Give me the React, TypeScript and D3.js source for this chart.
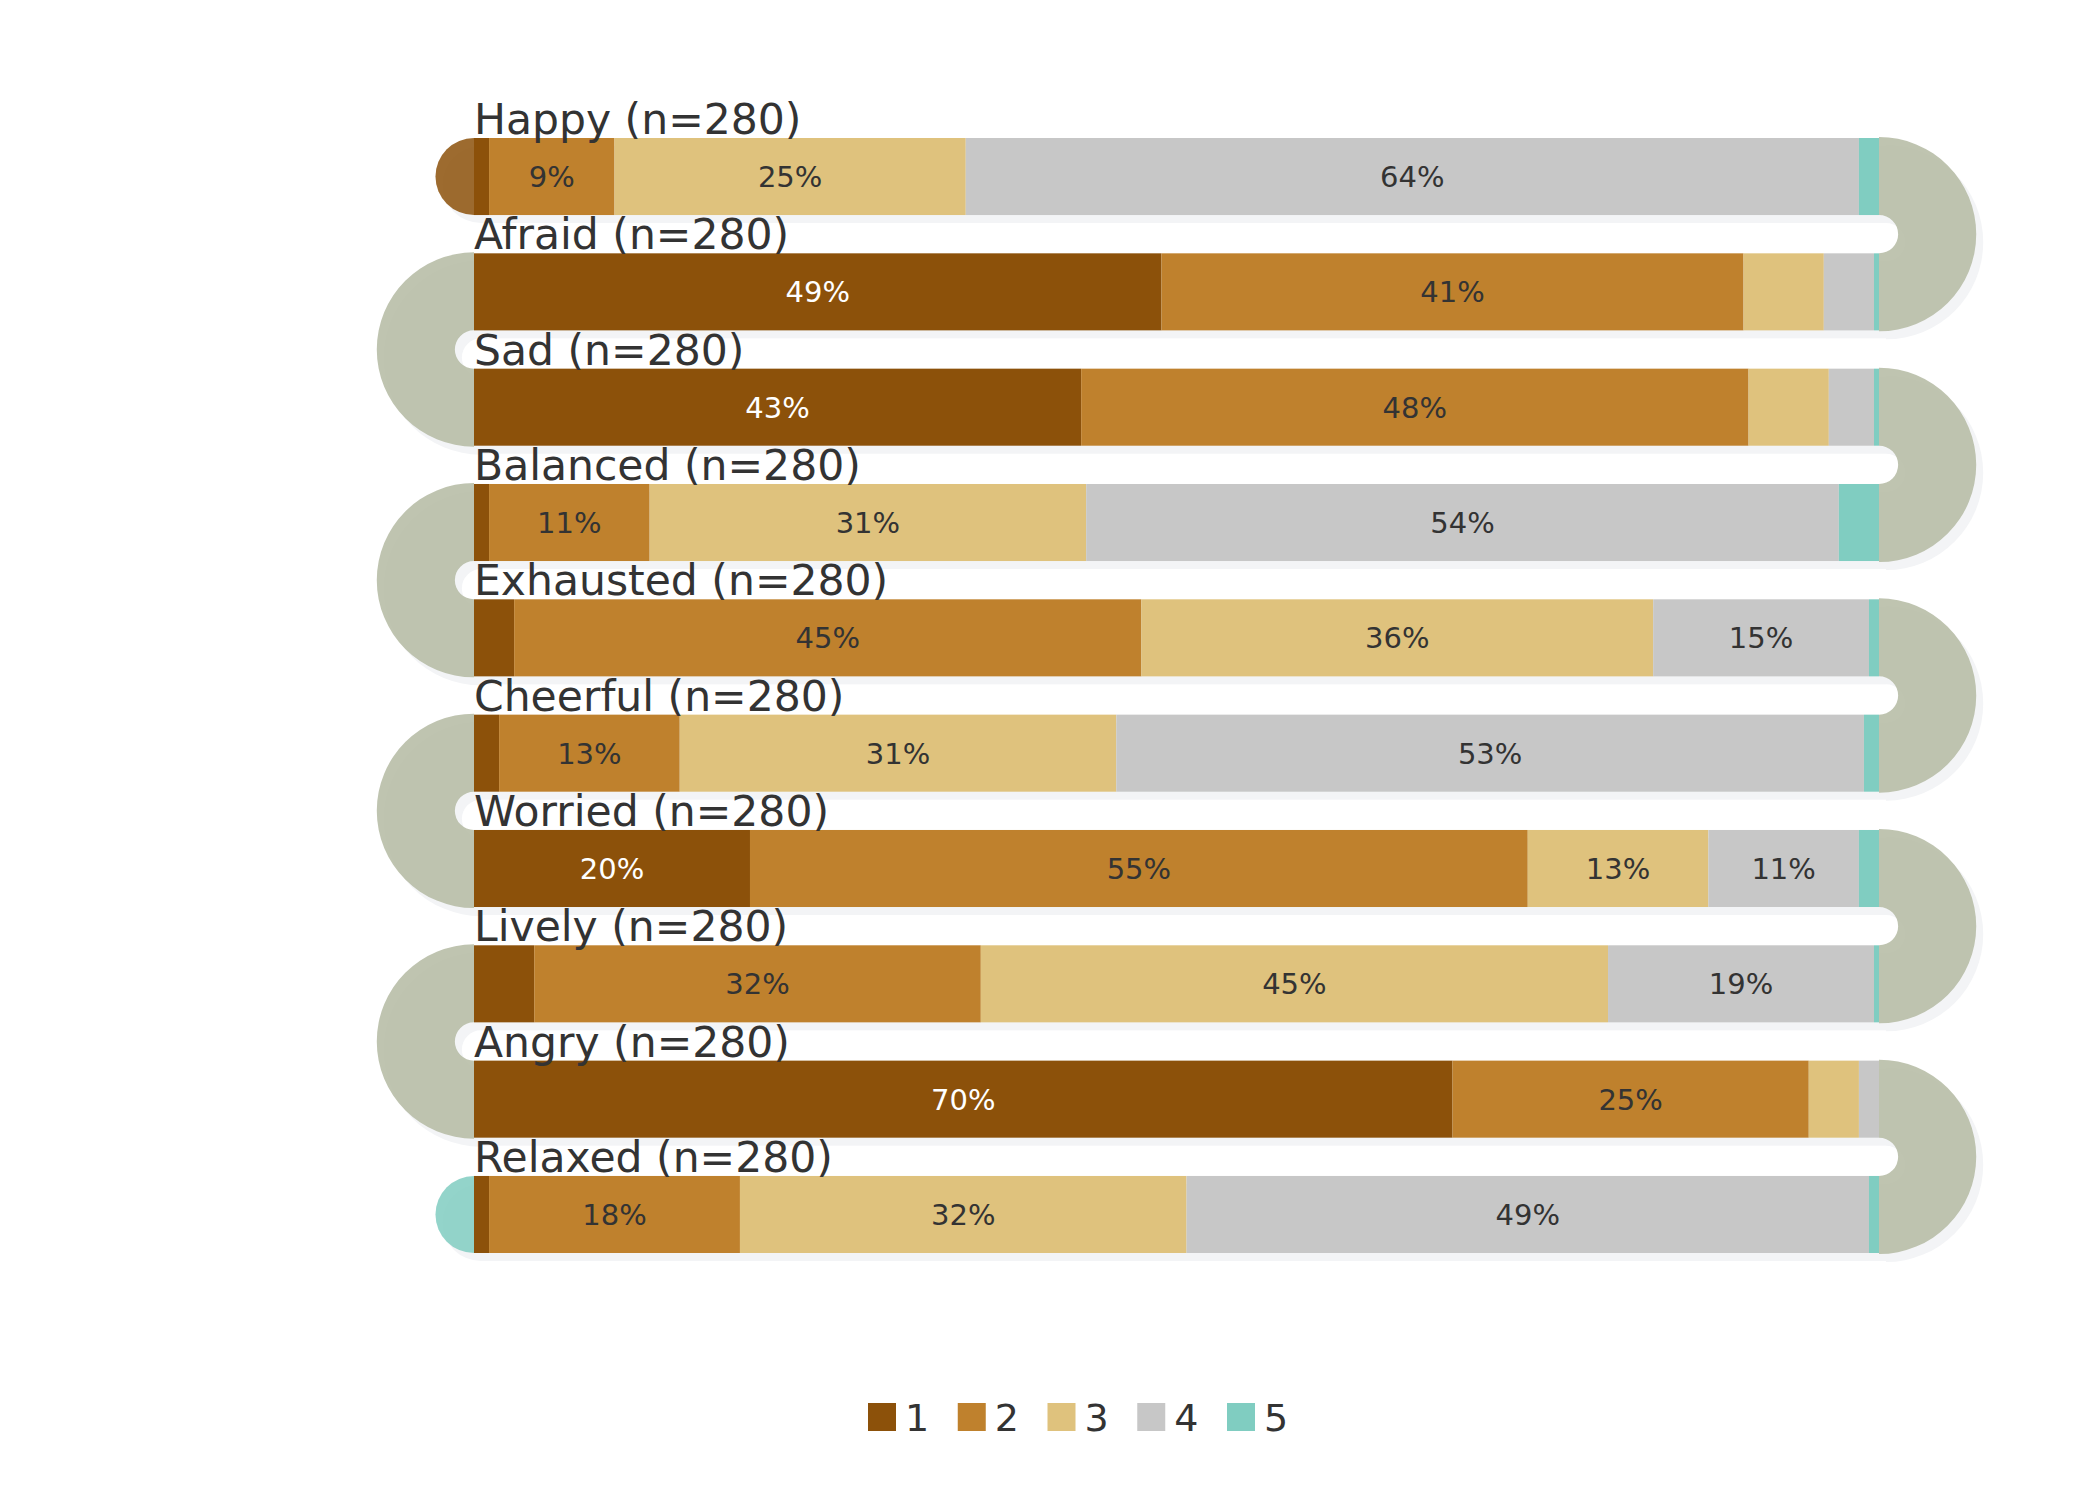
import * as d3 from "d3"

const W = 2100
const H = 1500
const N = 280

const categories = [
  "Happy",
  "Afraid",
  "Sad",
  "Balanced",
  "Exhausted",
  "Cheerful",
  "Worried",
  "Lively",
  "Angry",
  "Relaxed",
]

// answer counts per level (out of n=280), one array per level
const level1 = [3, 137, 121, 3, 8, 5, 55, 12, 195, 3]
const level2 = [25, 116, 133, 32, 125, 36, 155, 89, 71, 50]
const level3 = [70, 16, 16, 87, 102, 87, 36, 125, 10, 89]
const level4 = [178, 10, 9, 150, 43, 149, 30, 53, 4, 136]
const level5 = [4, 1, 1, 8, 2, 3, 4, 1, 0, 2]

const levels = ["1", "2", "3", "4", "5"]
const COLORS = ["#8c510a", "#bf812d", "#dfc27d", "#c7c7c7", "#80cdc1"]
const CONNECTOR = "#b4baa2"
const SHADOW = "#f3f4f6"
const TEXT = "#333333"
const FONT = "DejaVu Sans, sans-serif"

export default function App() {
  const series = [level1, level2, level3, level4, level5]

  const x = d3.scaleLinear().domain([0, 100]).range([474, 1879])
  const y = d3
    .scaleBand<string>()
    .domain(categories)
    .range([138, 1253])
    .paddingInner(0.332)
    .paddingOuter(0)

  const bh = y.bandwidth()
  const gap = y.step() - bh
  const inner = gap / 2
  const outer = inner + bh + 1

  const ringArc = d3.arc<{ startAngle: number; endAngle: number }>()
    .innerRadius(inner)
    .outerRadius(outer)
  const capArc = d3.arc<{ startAngle: number; endAngle: number }>()
    .innerRadius(0)
    .outerRadius(bh / 2)

  // stacked segments
  const rows = categories.map((cat, i) => {
    let acc = 0
    const segs = series.map((s, k) => {
      const pct = (s[i] / N) * 100
      const seg = { k, x0: acc, x1: acc + pct, pct }
      acc += pct
      return seg
    })
    return { cat, segs }
  })

  // U-turn connectors: right side after even rows, left side after odd rows
  const connectors = categories.slice(0, -1).map((cat, i) => {
    const right = i % 2 === 0
    const cy = (y(cat) as number) + (y.step() + bh) / 2
    const cx = right ? x(100) : x(0)
    const d = ringArc(
      right
        ? { startAngle: 0, endAngle: Math.PI }
        : { startAngle: Math.PI, endAngle: 2 * Math.PI }
    ) as string
    return { cx, cy, d }
  })

  const first = categories[0]
  const last = categories[categories.length - 1]
  const lastLeft = (categories.length - 1) % 2 === 1
  const startCap = {
    cx: x(0),
    cy: (y(first) as number) + bh / 2,
    d: capArc({ startAngle: Math.PI, endAngle: 2 * Math.PI }) as string,
  }
  const endCap = {
    cx: lastLeft ? x(0) : x(100),
    cy: (y(last) as number) + bh / 2,
    d: capArc(
      lastLeft
        ? { startAngle: Math.PI, endAngle: 2 * Math.PI }
        : { startAngle: 0, endAngle: Math.PI }
    ) as string,
  }

  const shape = (fillBars: boolean, shadow: boolean) => (
    <g>
      {rows.map((r) =>
        fillBars ? (
          r.segs.map((s) => (
            <rect
              key={r.cat + s.k}
              x={x(s.x0)}
              y={y(r.cat)}
              width={Math.max(0, x(s.x1) - x(s.x0))}
              height={bh}
              fill={COLORS[s.k]}
            />
          ))
        ) : (
          <rect key={r.cat} x={x(0)} y={y(r.cat)} width={x(100) - x(0)} height={bh} fill={SHADOW} />
        )
      )}
      {connectors.map((c, i) => (
        <path
          key={i}
          transform={`translate(${c.cx},${c.cy})`}
          d={c.d}
          fill={shadow ? SHADOW : CONNECTOR}
          fillOpacity={shadow ? 1 : 0.85}
        />
      ))}
      <path
        transform={`translate(${startCap.cx},${startCap.cy})`}
        d={startCap.d}
        fill={shadow ? SHADOW : COLORS[0]}
        fillOpacity={shadow ? 1 : 0.85}
      />
      <path
        transform={`translate(${endCap.cx},${endCap.cy})`}
        d={endCap.d}
        fill={shadow ? SHADOW : COLORS[4]}
        fillOpacity={shadow ? 1 : 0.85}
      />
    </g>
  )

  const legendX = d3.scaleLinear().domain([0, 4]).range([868, 1227])

  return (
    <div style={{ position: "fixed", left: 0, top: 0 }}>
      <svg width={W} height={H} viewBox={`0 0 ${W} ${H}`} style={{ display: "block", background: "#fff" }}>
        <g transform="translate(7,8)">{shape(false, true)}</g>
        {shape(true, false)}

        {/* segment labels */}
        {rows.map((r) =>
          r.segs
            .filter((s) => s.pct >= 7)
            .map((s) => (
              <text
                key={"t" + r.cat + s.k}
                x={(x(s.x0) + x(s.x1)) / 2}
                y={(y(r.cat) as number) + bh / 2}
                dy="0.36em"
                textAnchor="middle"
                fontFamily={FONT}
                fontSize={29}
                fill={s.k === 0 ? "#ffffff" : TEXT}
              >
                {Math.round(s.pct)}%
              </text>
            ))
        )}

        {/* row titles */}
        {categories.map((cat) => (
          <text
            key={"l" + cat}
            x={x(0)}
            y={(y(cat) as number) - 4}
            fontFamily={FONT}
            fontSize={42.5}
            fill={TEXT}
          >
            {`${cat} (n=${N})`}
          </text>
        ))}

        {/* legend */}
        {levels.map((lv, i) => (
          <g key={"lg" + lv} transform={`translate(${legendX(i)},1403)`}>
            <rect width={28} height={28} fill={COLORS[i]} />
            <text x={37} y={28} fontFamily={FONT} fontSize={38} fill={TEXT}>
              {lv}
            </text>
          </g>
        ))}
      </svg>
    </div>
  )
}
